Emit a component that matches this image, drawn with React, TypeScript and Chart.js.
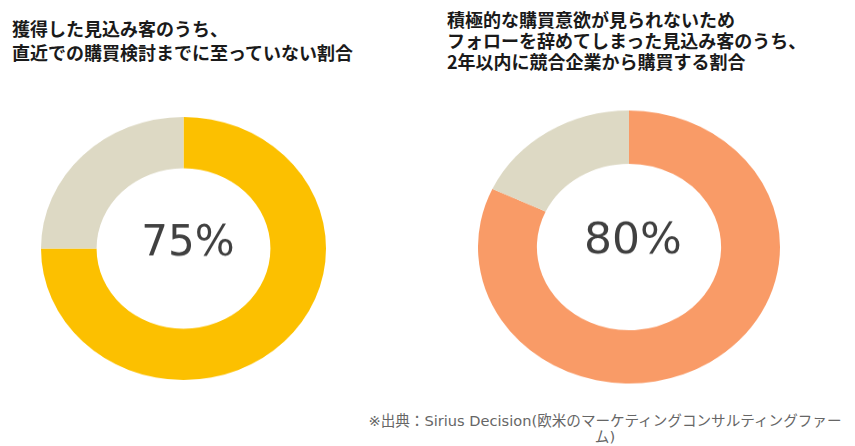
import React, { useEffect, useRef } from "react";
import { Chart, registerables } from "chart.js";

Chart.register(...registerables);

// ---- data ----
const categories = ["該当", "その他"];
const leftValues = [75, 25];
const rightValues = [82, 18];
const centerLabels = ["75%", "80%"];
const leftTitle = ["獲得した見込み客のうち、", "直近での購買検討までに至っていない割合"];
const rightTitle = [
  "積極的な購買意欲が見られないため",
  "フォローを辞めてしまった見込み客のうち、",
  "2年以内に競合企業から購買する割合",
];
const sourceNote = ["※出典：Sirius Decision(欧米のマーケティングコンサルティングファー", "ム)"];

const YELLOW = "#FCC000";
const ORANGE = "#F99B67";
const BEIGE = "#DDD9C4";

type DonutProps = {
  values: number[];
  color: string;
  label: string;
  size: number;
  left: number;
  top: number;
  sy: number;
  fontSize: number;
  dx: number;
  dy: number;
};

function Donut({ values, color, label, size, left, top, sy, fontSize, dx, dy }: DonutProps) {
  const ref = useRef<HTMLCanvasElement | null>(null);
  useEffect(() => {
    if (!ref.current) return;
    const centerText = {
      id: "centerText",
      afterDraw(chart: any) {
        const meta = chart.getDatasetMeta(0);
        const arc = meta.data[0];
        if (!arc) return;
        const { x, y } = arc;
        const ctx = chart.ctx;
        ctx.save();
        ctx.translate(x, y);
        ctx.scale(1, 1 / sy);
        ctx.fillStyle = "#404040";
        ctx.font = `${fontSize}px "DejaVu Sans", Verdana, sans-serif`;
        ctx.textAlign = "center";
        ctx.textBaseline = "alphabetic";
        ctx.fillText(label, dx, dy);
        ctx.restore();
      },
    };
    const chart = new Chart(ref.current, {
      type: "doughnut",
      data: {
        labels: categories,
        datasets: [
          {
            data: values,
            backgroundColor: [color, BEIGE],
            borderWidth: 0,
          },
        ],
      },
      options: {
        responsive: false,
        animation: false,
        cutout: "61%",
        layout: { padding: 0 },
        plugins: {
          legend: { display: false },
          tooltip: { enabled: false },
          title: { display: false },
        },
      },
      plugins: [centerText],
    });
    return () => chart.destroy();
  }, []);
  return (
    <div
      style={{
        position: "absolute",
        left,
        top,
        width: size,
        height: size,
        transform: `scaleY(${sy})`,
        transformOrigin: "50% 50%",
      }}
    >
      <canvas ref={ref} width={size} height={size} style={{ width: size, height: size, display: "block" }} />
    </div>
  );
}

export default function App() {
  const titleStyle: React.CSSProperties = {
    position: "absolute",
    fontFamily: '"Noto Sans CJK JP", sans-serif',
    fontWeight: 700,
    fontSize: 18,
    color: "#1a1a1a",
    whiteSpace: "nowrap",
  };
  return (
    <div
      style={{
        position: "absolute",
        left: 0,
        top: 0,
        width: 855,
        height: 446,
        background: "#fff",
        overflow: "hidden",
      }}
    >
      <div style={{ ...titleStyle, left: 12, top: 16, lineHeight: "24px" }}>
        {leftTitle.map((t, i) => (
          <div key={i}>{t}</div>
        ))}
      </div>
      <div style={{ ...titleStyle, left: 447, top: 8.5, lineHeight: "21px" }}>
        {rightTitle.map((t, i) => (
          <div key={i}>{t}</div>
        ))}
      </div>
      <Donut
        values={leftValues}
        color={YELLOW}
        label={centerLabels[0]}
        size={285}
        left={41}
        top={106}
        sy={263 / 285}
        fontSize={42}
        dx={4.5}
        dy={6.5}
      />
      <Donut
        values={rightValues}
        color={ORANGE}
        label={centerLabels[1]}
        size={302}
        left={478}
        top={95.5}
        sy={273 / 302}
        fontSize={44}
        dx={4}
        dy={6.5}
      />
      <div
        style={{
          position: "absolute",
          left: 355,
          top: 413,
          width: 500,
          textAlign: "center",
          fontFamily: '"DejaVu Sans", "Noto Sans CJK JP", sans-serif',
          fontSize: 14.6,
          lineHeight: "16px",
          color: "#666",
          whiteSpace: "nowrap",
        }}
      >
        {sourceNote.map((t, i) => (
          <div key={i}>{t}</div>
        ))}
      </div>
    </div>
  );
}
